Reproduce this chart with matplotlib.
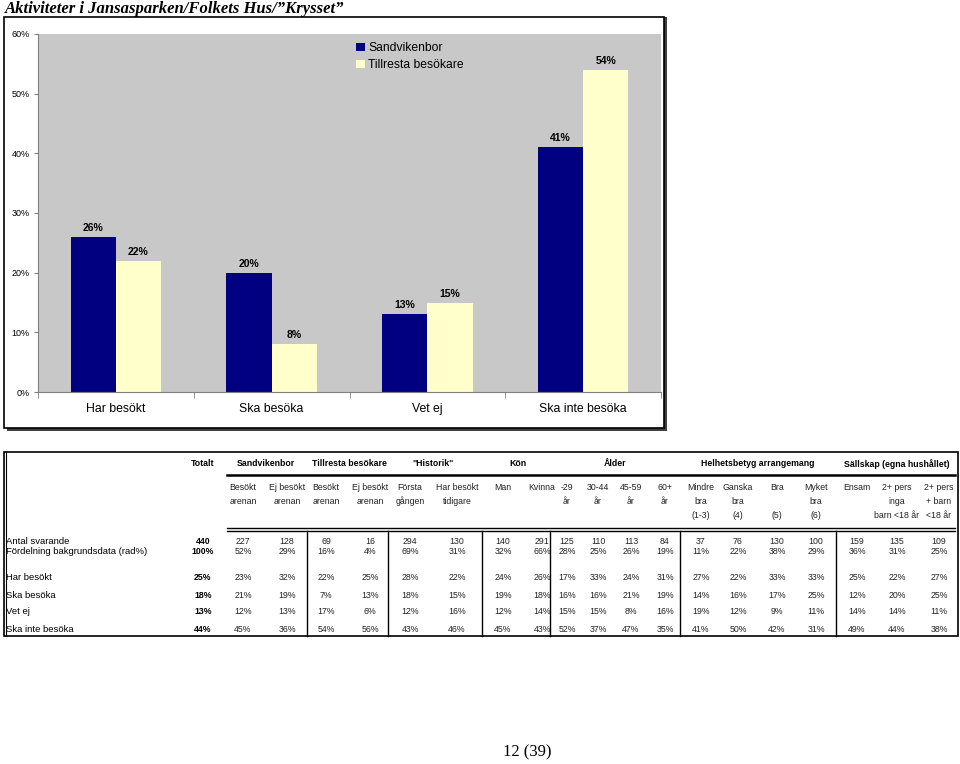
import matplotlib
matplotlib.use("Agg")
import matplotlib.pyplot as plt
import numpy as np
from matplotlib.patches import Rectangle
from matplotlib.lines import Line2D

plt.rcParams['font.family'] = ['Liberation Sans', 'DejaVu Sans']

W, H = 960, 764

# chart data
categories = ["Har besökt", "Ska besöka", "Vet ej", "Ska inte besöka"]
sandvikenbor = [26, 20, 13, 41]
tillresta = [22, 8, 15, 54]

# table data
group_labels = ["Sandvikenbor", "Tillresta besökare", '"Historik"', "Kön", "Ålder",
                "Helhetsbetyg arrangemang", "Sällskap (egna hushållet)"]
sub_labels = [
    ["Besökt", "arenan", ""], ["Ej besökt", "arenan", ""],
    ["Besökt", "arenan", ""], ["Ej besökt", "arenan", ""],
    ["Första", "gången", ""], ["Har besökt", "tidigare", ""],
    ["Man", "", ""], ["Kvinna", "", ""],
    ["-29", "år", ""], ["30-44", "år", ""], ["45-59", "år", ""], ["60+", "år", ""],
    ["Mindre", "bra", "(1-3)"], ["Ganska", "bra", "(4)"], ["Bra", "", "(5)"], ["Myket", "bra", "(6)"],
    ["Ensam", "", ""], ["2+ pers", "inga", "barn <18 år"], ["2+ pers", "+ barn", "<18 år"],
]
row_labels = ["Antal svarande", "Fördelning bakgrundsdata (rad%)",
              "Har besökt", "Ska besöka", "Vet ej", "Ska inte besöka"]
totalt = ["440", "100%", "25%", "18%", "13%", "44%"]
antal = [227, 128, 69, 16, 294, 130, 140, 291, 125, 110, 113, 84, 37, 76, 130, 100, 159, 135, 109]
fordelning = [52, 29, 16, 4, 69, 31, 32, 66, 28, 25, 26, 19, 11, 22, 38, 29, 36, 31, 25]
har_besokt = [23, 32, 22, 25, 28, 22, 24, 26, 17, 33, 24, 31, 27, 22, 33, 33, 25, 22, 27]
ska_besoka = [21, 19, 7, 13, 18, 15, 19, 18, 16, 16, 21, 19, 14, 16, 17, 25, 12, 20, 25]
vet_ej = [12, 13, 17, 6, 12, 16, 12, 14, 15, 15, 8, 16, 19, 12, 9, 11, 14, 14, 11]
ska_inte = [45, 36, 54, 56, 43, 46, 45, 43, 52, 37, 47, 35, 41, 50, 42, 31, 49, 44, 38]

fig = plt.figure(figsize=(W / 100, H / 100), dpi=100)


def fx(x):
    return x / W


def fy(y):
    return 1 - y / H


def txt(x, y, s, **kw):
    fig.text(fx(x), fy(y), s, **kw)


def hline(x0, x1, y, lw=1.0, color="black"):
    fig.add_artist(Line2D([fx(x0), fx(x1)], [fy(y), fy(y)], lw=lw, color=color))


def vline(x, y0, y1, lw=1.0, color="black"):
    fig.add_artist(Line2D([fx(x), fx(x)], [fy(y0), fy(y1)], lw=lw, color=color))


# title
txt(5, 9, "Aktiviteter i Jansasparken/Folkets Hus/\u201dKrysset\u201d",
    family="Liberation Serif", weight="bold", style="italic", fontsize=12, va="center")

# chart frame with shadow
fig.add_artist(Rectangle((fx(7), fy(431)), fx(660), 414 / H, facecolor="#404040",
                         edgecolor="none", zorder=-2))
fig.add_artist(Rectangle((fx(4), fy(428)), fx(660), 411 / H, facecolor="white",
                         edgecolor="black", lw=1.2, zorder=-1))

ax = fig.add_axes([fx(38), fy(392), fx(623), (392 - 34) / H])
ax.set_zorder(2)
ax.set_facecolor("#C8C8C8")
x = np.arange(len(categories))
bw = 0.29
b1 = ax.bar(x - bw / 2, sandvikenbor, bw, color="#000080", label="Sandvikenbor")
b2 = ax.bar(x + bw / 2, tillresta, bw, color="#FFFFCC", label="Tillresta besökare")
for bars, vals in ((b1, sandvikenbor), (b2, tillresta)):
    for r, v in zip(bars, vals):
        ax.text(r.get_x() + r.get_width() / 2, v + 1.5, f"{v}%", ha="center", va="center",
                fontsize=7.5, weight="bold")
ax.set_xlim(-0.5, 3.5)
ax.set_ylim(0, 60)
ax.set_yticks(range(0, 61, 10))
ax.set_yticklabels([f"{v}%" for v in range(0, 61, 10)], fontsize=6.5)
ax.set_xticks(x)
ax.set_xticklabels(categories, fontsize=8.8)
ax.set_xticks(np.arange(-0.5, 4, 1), minor=True)
ax.tick_params(axis="x", which="major", length=0, pad=8)
ax.tick_params(axis="x", which="minor", length=4, color="#808080")
ax.tick_params(axis="y", length=3, color="#808080", pad=3)
for s in ("top", "right"):
    ax.spines[s].set_visible(False)
ax.spines["left"].set_color("#808080")
ax.spines["bottom"].set_color("#808080")
ax.legend(loc="upper left", bbox_to_anchor=(0.497, 1.0), frameon=False, fontsize=8.7,
          handlelength=0.7, handleheight=0.7, handletextpad=0.3, labelspacing=0.4,
          borderaxespad=0.3)

# table
tfs = 6.3
fig.add_artist(Rectangle((fx(4), fy(636)), fx(954), 184 / H, facecolor="none",
                         edgecolor="black", lw=1.2))
vline(6, 452, 636, lw=0.8)

col_x = [243, 287, 326, 370, 410, 457, 503, 542, 567, 598, 631, 665,
         701, 738, 777, 816, 857, 897, 939]
group_x = [266, 349, 433, 518, 615, 758, 897]

txt(203, 464, "Totalt", fontsize=tfs, weight="bold", ha="center", va="center")
for gx, g in zip(group_x, group_labels):
    txt(gx, 464, g, fontsize=tfs, weight="bold", ha="center", va="center")
hline(227, 955, 475, lw=1.8)
for cx, lines in zip(col_x, sub_labels):
    for i, s in enumerate(lines):
        if s:
            txt(cx, 487 + 14.5 * i, s, fontsize=tfs, ha="center", va="center", color="#222222")
hline(227, 955, 528, lw=1.0)
hline(227, 955, 531, lw=1.0)
for vx in (307, 388, 482, 550, 680, 836):
    vline(vx, 531, 636, lw=1.0)

row_y = [541, 552, 578, 595, 612, 629]
rows = [[str(v) for v in antal], [f"{v}%" for v in fordelning],
        [f"{v}%" for v in har_besokt], [f"{v}%" for v in ska_besoka],
        [f"{v}%" for v in vet_ej], [f"{v}%" for v in ska_inte]]
for ry, lab, tot, vals in zip(row_y, row_labels, totalt, rows):
    txt(6, ry, lab, fontsize=tfs + 0.5, ha="left", va="center")
    txt(203, ry, tot, fontsize=tfs, weight="bold", ha="center", va="center")
    for cx, v in zip(col_x, vals):
        txt(cx, ry, v, fontsize=tfs, ha="center", va="center", color="#222222")

# page number
txt(527, 752, "12 (39)", family="Liberation Serif", fontsize=12, ha="center", va="center")

fig.savefig("out.png", dpi=100)
